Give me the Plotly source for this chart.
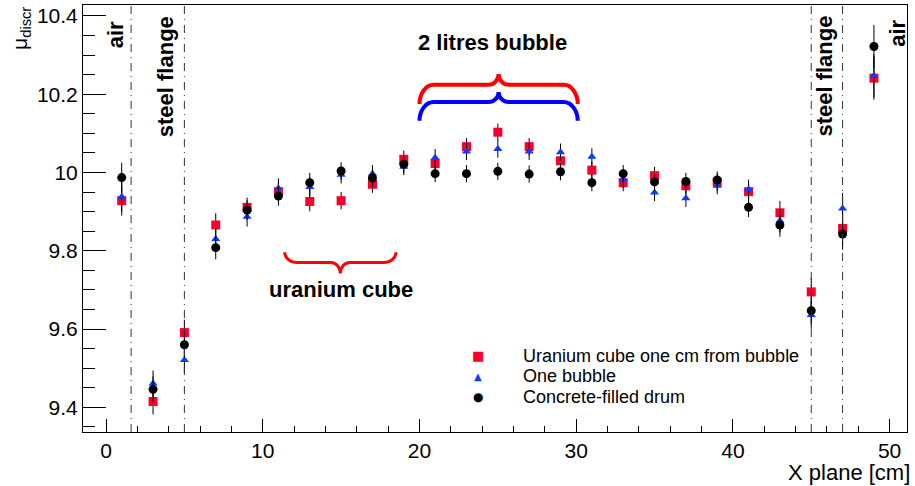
import plotly.graph_objects as go

# ---------------- data ----------------
x_plane = [1, 3, 5, 7, 9, 11, 13, 15, 17, 19, 21, 23, 25, 27, 29, 31, 33, 35, 37, 39, 41, 43, 45, 47, 49]
uranium = [9.928, 9.415, 9.591, 9.866, 9.911, 9.951, 9.926, 9.928, 9.970, 10.034, 10.023, 10.066, 10.103,
           10.066, 10.030, 10.006, 9.974, 9.992, 9.966, 9.975, 9.951, 9.897, 9.695, 9.857, 10.241]
one_bubble = [9.938, 9.461, 9.521, 9.830, 9.887, 9.960, 9.963, 9.994, 9.997, 10.015, 10.038, 10.054, 10.060,
              10.054, 10.052, 10.040, 9.983, 9.949, 9.934, 9.966, 9.957, 9.877, 9.636, 9.908, 10.247]
concrete = [9.987, 9.446, 9.560, 9.808, 9.904, 9.940, 9.974, 10.004, 9.986, 10.021, 9.997, 9.997, 10.003,
            9.996, 10.002, 9.974, 9.997, 9.976, 9.977, 9.981, 9.911, 9.866, 9.647, 9.843, 10.322]
errors = [0.038, 0.033, 0.033, 0.030, 0.025, 0.025, 0.025, 0.022, 0.022, 0.022, 0.022, 0.022, 0.022,
          0.022, 0.022, 0.022, 0.022, 0.022, 0.022, 0.022, 0.025, 0.030, 0.035, 0.040, 0.055]

series_names = ["Uranium cube one cm from bubble", "One bubble", "Concrete-filled drum"]

y_tickvals = [9.4, 9.6, 9.8, 10.0, 10.2, 10.4]
y_ticktext = ["9.4", "9.6", "9.8", "10", "10.2", "10.4"]
x_tickvals = [0, 10, 20, 30, 40, 50]
x_ticktext = ["0", "10", "20", "30", "40", "50"]

boundaries = [1.6, 5.0, 45.0, 47.0]   # region boundaries (air / steel flange)

FONT = "Liberation Sans, Arial, sans-serif"

fig = go.Figure()
styles = [
    dict(symbol="square", color="#f8002e", size=9, glyph="■", gsize=13),
    dict(symbol="triangle-up", color="#0a3cff", size=8, glyph="▲", gsize=10),
    dict(symbol="circle", color="black", size=9, glyph="●", gsize=12),
]
for name, vals, st in zip(series_names, [uranium, one_bubble, concrete], styles):
    fig.add_trace(go.Scatter(
        x=x_plane, y=vals, mode="markers", name=name, showlegend=False,
        marker=dict(symbol=st["symbol"], color=st["color"], size=st["size"], line=dict(width=0)),
        error_y=dict(type="data", array=errors, color="black", thickness=1, width=0),
    ))

# legend (drawn as text so the row spacing matches)
legend_rows = [0.178, 0.1311, 0.082]
for name, st, ly in zip(series_names, styles, legend_rows):
    fig.add_annotation(xref="paper", yref="paper", x=0.4794, y=ly, xanchor="center", yanchor="middle",
                       text=st["glyph"], showarrow=False,
                       font=dict(family="DejaVu Sans", size=st["gsize"], color=st["color"]))
    fig.add_annotation(xref="paper", yref="paper", x=0.5316, y=ly, xanchor="left", yanchor="middle",
                       text=name, showarrow=False,
                       font=dict(family=FONT, size=18, color="black"))

# boundary lines
for b in boundaries:
    fig.add_shape(type="line", xref="x", yref="paper", x0=b, x1=b, y0=0, y1=1,
                  line=dict(color="#333333", width=1, dash="8px,5px,1px,5px"))


def brace(x0, x1, y_end, y_mid, y_tip, r, r2):
    xc = 0.5 * (x0 + x1)
    k = 0.55
    p = (f"M {x0},{y_end} "
         f"C {x0},{y_end + k * (y_mid - y_end)} {x0 + (1 - k) * r},{y_mid} {x0 + r},{y_mid} "
         f"L {xc - r2},{y_mid} "
         f"C {xc - (1 - k) * r2},{y_mid} {xc},{y_tip - k * (y_tip - y_mid)} {xc},{y_tip} "
         f"C {xc},{y_tip - k * (y_tip - y_mid)} {xc + (1 - k) * r2},{y_mid} {xc + r2},{y_mid} "
         f"L {x1 - r},{y_mid} "
         f"C {x1 - (1 - k) * r},{y_mid} {x1},{y_end + k * (y_mid - y_end)} {x1},{y_end}")
    return p


fig.add_shape(type="path", xref="x", yref="y", path=brace(20.0, 30.1, 10.175, 10.224, 10.252, 0.9, 0.65),
              line=dict(color="#ff0000", width=4))
fig.add_shape(type="path", xref="x", yref="y", path=brace(20.0, 30.1, 10.132, 10.180, 10.206, 0.9, 0.65),
              line=dict(color="#0000ff", width=4))
fig.add_shape(type="path", xref="x", yref="y", path=brace(11.4, 18.5, 9.796, 9.770, 9.742, 0.8, 0.6),
              line=dict(color="#ff0000", width=3))

bold = dict(family=FONT, size=22, color="black", weight="bold")
ann = [
    dict(x=0.62, y=10.392, text="air", textangle=-90, xanchor="center", yanchor="top"),
    dict(x=3.81, y=10.405, text="steel flange", textangle=-90, xanchor="center", yanchor="top"),
    dict(x=45.82, y=10.405, text="steel flange", textangle=-90, xanchor="center", yanchor="top"),
    dict(x=50.46, y=10.396, text="air", textangle=-90, xanchor="center", yanchor="top"),
    dict(x=24.66, y=10.332, text="2 litres bubble", xanchor="center", yanchor="middle"),
    dict(x=14.98, y=9.70, text="uranium cube", xanchor="center", yanchor="middle"),
]
for a in ann:
    fig.add_annotation(xref="x", yref="y", showarrow=False, font=bold, **a)

# axis titles
fig.add_annotation(xref="paper", yref="paper", x=1.006, y=-0.061, xanchor="right", yanchor="top",
                   text="X plane [cm]", showarrow=False, font=dict(family=FONT, size=22, color="black"))
fig.add_annotation(xref="paper", yref="paper", x=-0.076, y=1.0, xanchor="center", yanchor="top",
                   text="μ<sub>discr</sub>", textangle=-90, showarrow=False,
                   font=dict(family=FONT, size=21, color="black"))

fig.update_layout(
    width=915, height=486,
    margin=dict(l=83, r=8, t=5, b=54),
    paper_bgcolor="white", plot_bgcolor="white",
    font=dict(family=FONT, size=21, color="black"),
    showlegend=False,
    xaxis=dict(range=[-1.47, 51.11], showgrid=False, zeroline=False, showline=True, mirror=True,
               linecolor="black", linewidth=1, ticks="inside", ticklen=13, tickcolor="black",
               tickmode="array", tickvals=x_tickvals, ticktext=x_ticktext,
               minor=dict(dtick=2, tick0=0, ticks="inside", ticklen=6, tickcolor="black", showgrid=False)),
    yaxis=dict(range=[9.337, 10.428], showgrid=False, zeroline=False, showline=True, mirror=True,
               linecolor="black", linewidth=1, ticks="inside", ticklen=23, tickcolor="black",
               tickmode="array", tickvals=y_tickvals, ticktext=y_ticktext,
               minor=dict(dtick=0.05, tick0=9.4, ticks="inside", ticklen=12, tickcolor="black", showgrid=False)),
)

fig.write_html("out.html")
